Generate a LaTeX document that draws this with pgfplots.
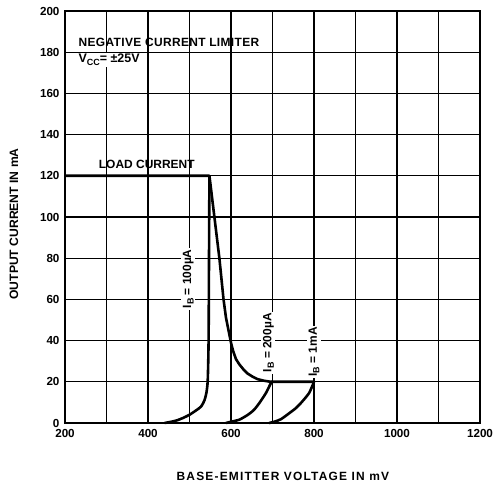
\documentclass[border=0pt]{standalone}
\usepackage{fontspec}
\setmainfont{Liberation Sans}
\usepackage{pgfplots}
\pgfplotsset{compat=1.18}
\newcommand\sub[1]{\raisebox{-0.4ex}{\fontsize{9}{10}\selectfont #1}}
\begin{document}
\begin{tikzpicture}
\begin{axis}[
  scale only axis,
  width=415bp, height=412bp,
  xmin=200, xmax=1200, ymin=0, ymax=200,
  xtick={200,400,...,1200},
  minor xtick={300,500,...,1100},
  ytick={0,20,...,200},
  grid=both,
  major grid style={black, line width=1.2bp},
  minor grid style={black, line width=1.2bp},
  axis line style={black, line width=1.8bp},
  major tick length=0pt, minor tick length=0pt,
  tick style={draw=none},
  /pgf/number format/assume math mode=true,
  /pgf/number format/1000 sep={},
  ticklabel style={font=\bfseries\fontsize{11.7}{12}\selectfont},
  xticklabel style={yshift=-3bp},
  yticklabel style={xshift=-2bp},
  xlabel={BASE-EMITTER VOLTAGE IN mV},
  ylabel={OUTPUT CURRENT IN mA},
  xlabel style={font=\bfseries\fontsize{12}{13}\selectfont\addfontfeature{LetterSpace=10},at={(axis description cs:0.525,-0.129)},anchor=center},
  ylabel style={font=\bfseries\fontsize{12.2}{13}\selectfont,at={(axis description cs:-0.123,0.483)},anchor=center},
  clip=false,
]
\addplot[black, line width=2.6bp, line join=round] coordinates {
(200,120)(548,120)(554,110)(560,100)(566,90)(572,80)(578,68)(582,60)(588,51)(594,45)(600,39)(605,35)(612,31)(620,28.5)(630,26)(640,24)(652,22.5)(664,21.3)(680,20.5)(696,20)(800,20)};
\addplot[black, line width=2.6bp, smooth, tension=0.4] coordinates {
(440,0)(456,0.6)(470,1.3)(485,2.5)(500,4)(515,6)(528,8)(536,11)(541,15)(544,21)(546,40)(547,80)(548,120)};
\addplot[black, line width=2.6bp, smooth, tension=0.4] coordinates {
(588,0)(600,0.6)(620,1.6)(640,3.9)(655,6.3)(668,9.6)(684,14.5)(696,19.3)(700,20)};
\addplot[black, line width=2.6bp, smooth, tension=0.4] coordinates {
(692,0)(704,0.6)(720,1.8)(740,4.7)(755,7)(768,9.6)(788,14.5)(800,20)};
\node[anchor=west, font=\bfseries\fontsize{12}{13}\selectfont\addfontfeature{LetterSpace=3}, inner sep=1pt] at (axis cs:230,185) {NEGATIVE CURRENT LIMITER};
\node[anchor=west, font=\bfseries\fontsize{12.5}{13}\selectfont, inner sep=1pt, fill=white] at (axis cs:230,176.3) {V\sub{CC}= ±25V};
\node[font=\bfseries\fontsize{12}{13}\selectfont, inner sep=1pt] at (axis cs:397,125.5) {LOAD CURRENT};
\node[rotate=90, fill=white, font=\bfseries\fontsize{12}{13}\selectfont, inner sep=1.5pt] at (axis cs:497,70) {I\sub{B} = 100µA};
\node[rotate=90, fill=white, font=\bfseries\fontsize{12}{13}\selectfont, inner sep=1.5pt] at (axis cs:690,39) {I\sub{B} = 200µA};
\node[rotate=90, fill=white, font=\bfseries\fontsize{12}{13}\selectfont, inner sep=1.5pt] at (axis cs:800,34.5) {I\sub{B} = 1mA};
\coordinate (bl) at (rel axis cs:0,0);
\coordinate (tr) at (rel axis cs:1,1);
\end{axis}
\pgfresetboundingbox
\path[use as bounding box] ([shift={(-65bp,-61bp)}]bl) rectangle ([shift={(17bp,11bp)}]tr);
\end{tikzpicture}
\end{document}
